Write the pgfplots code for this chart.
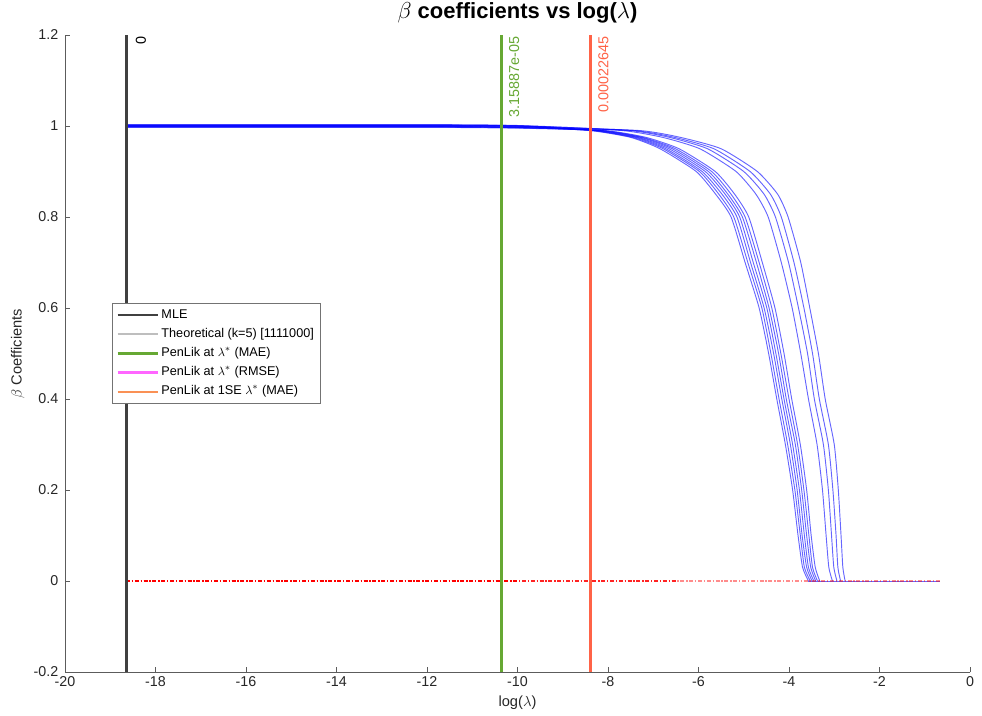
\documentclass[border=0pt]{standalone}
\usepackage{pgfplots}
\pgfplotsset{compat=1.18}
\usepackage{fontspec}
\setmainfont{Liberation Sans}
\definecolor{mleg}{RGB}{64,64,64}
\definecolor{theo}{RGB}{190,190,190}
\definecolor{maeg}{RGB}{102,168,51}
\definecolor{rmsem}{RGB}{255,102,255}
\definecolor{sel}{RGB}{250,145,85}
\definecolor{sev}{RGB}{255,99,71}
\definecolor{axc}{RGB}{38,38,38}
\begin{document}
\begin{tikzpicture}
\useasboundingbox (-48.75pt,-32.25pt) rectangle (687.75pt,504pt);
\begin{axis}[
  scale only axis, width=678.75pt, height=477.75pt,
  xmin=-20, xmax=0, ymin=-0.2, ymax=1.2,
  axis x line*=bottom, axis y line*=left,
  axis line style={-, draw=axc!75, line width=0.6pt},
  xtick align=inside, ytick align=inside, major tick length=4pt,
  tick style={axc!75, line width=0.6pt},
  xtick={-20,-18,-16,-14,-12,-10,-8,-6,-4,-2,0},
  xticklabels={-20,-18,-16,-14,-12,-10,-8,-6,-4,-2,0},
  ytick={-0.2,0,0.2,0.4,0.6,0.8,1,1.2},
  yticklabels={-0.2,0,0.2,0.4,0.6,0.8,1,1.2},
  ticklabel style={font=\fontsize{10.7}{12}\selectfont, text=axc},
  yticklabel style={xshift=-1.5pt},
  title={$\beta$ coefficients vs log($\lambda$)},
  title style={font=\bfseries\fontsize{16.5}{18}\selectfont, text=black, yshift=-1pt},
  xlabel={log($\lambda$)}, ylabel={$\beta$ Coefficients},
  label style={font=\fontsize{11}{13}\selectfont, text=axc},
  legend cell align=left,
  legend image code/.code={\draw[#1, line width=1.8pt] (0pt,0pt) -- (30pt,0pt);},
  legend style={at={(0.052,0.579)}, anchor=north west, draw=black!55, line width=0.5pt,
    font=\fontsize{9.5}{11}\selectfont, row sep=1.2pt,
    nodes={inner sep=2pt, text height=7pt, text depth=2.2pt}},
]
\addlegendimage{mleg}
\addlegendentry{MLE}
\addlegendimage{theo}
\addlegendentry{Theoretical (k=5) [1111000]}
\addlegendimage{maeg}
\addlegendentry{PenLik at $\lambda^{*}$ (MAE)}
\addlegendimage{rmsem}
\addlegendentry{PenLik at $\lambda^{*}$ (RMSE)}
\addlegendimage{sel}
\addlegendentry{PenLik at 1SE $\lambda^{*}$ (MAE)}

\pgfplotsset{every axis plot/.append style={forget plot}}
\tikzset{bc/.style={blue, opacity=0.6, line width=0.7pt, smooth, tension=0.35}}
% coefficient paths (truly nonzero coefficients)
\addplot[bc] coordinates {(-18.65,1.002) (-12,1.002) (-10,1.000) (-8.4,0.99) (-7.50,0.975) (-6.85,0.95) (-6.05,0.90) (-5.62,0.85) (-5.28,0.80) (-4.97,0.70) (-4.66,0.60) (-4.45,0.50) (-4.27,0.40) (-4.08,0.30) (-3.92,0.20) (-3.80,0.10) (-3.70,0.03) (-3.57,0)};
\addplot[bc] coordinates {(-18.65,0.999) (-12,0.999) (-9.98,0.997) (-8.35,0.99) (-7.45,0.975) (-6.78,0.95) (-5.98,0.90) (-5.55,0.85) (-5.22,0.80) (-4.91,0.70) (-4.60,0.60) (-4.40,0.50) (-4.22,0.40) (-4.03,0.30) (-3.87,0.20) (-3.75,0.10) (-3.66,0.03) (-3.53,0)};
\addplot[bc] coordinates {(-18.65,1.003) (-12,1.003) (-9.95,1.001) (-8.29,0.99) (-7.39,0.975) (-6.72,0.95) (-5.92,0.90) (-5.48,0.85) (-5.15,0.80) (-4.85,0.70) (-4.55,0.60) (-4.34,0.50) (-4.16,0.40) (-3.97,0.30) (-3.82,0.20) (-3.71,0.10) (-3.61,0.03) (-3.49,0)};
\addplot[bc] coordinates {(-18.65,0.998) (-12,0.998) (-9.93,0.996) (-8.24,0.99) (-7.34,0.975) (-6.65,0.95) (-5.85,0.90) (-5.41,0.85) (-5.09,0.80) (-4.79,0.70) (-4.49,0.60) (-4.29,0.50) (-4.11,0.40) (-3.92,0.30) (-3.77,0.20) (-3.66,0.10) (-3.57,0.03) (-3.45,0)};
\addplot[bc] coordinates {(-18.65,1.001) (-12,1.001) (-9.90,0.999) (-8.18,0.99) (-7.28,0.975) (-6.58,0.95) (-5.78,0.90) (-5.35,0.85) (-5.03,0.80) (-4.72,0.70) (-4.44,0.60) (-4.23,0.50) (-4.06,0.40) (-3.86,0.30) (-3.72,0.20) (-3.61,0.10) (-3.52,0.03) (-3.41,0)};
\addplot[bc] coordinates {(-18.65,0.997) (-12,0.997) (-9.88,0.995) (-8.13,0.99) (-7.23,0.975) (-6.51,0.95) (-5.71,0.90) (-5.28,0.85) (-4.97,0.80) (-4.66,0.70) (-4.38,0.60) (-4.18,0.50) (-4.00,0.40) (-3.81,0.30) (-3.67,0.20) (-3.56,0.10) (-3.48,0.03) (-3.37,0)};
\addplot[bc] coordinates {(-18.65,1.000) (-12,1.000) (-9.85,0.998) (-8.06,0.99) (-7.16,0.975) (-6.43,0.95) (-5.63,0.90) (-5.20,0.85) (-4.89,0.80) (-4.59,0.70) (-4.31,0.60) (-4.11,0.50) (-3.94,0.40) (-3.75,0.30) (-3.61,0.20) (-3.51,0.10) (-3.42,0.03) (-3.32,0)};
\addplot[bc] coordinates {(-18.65,1.002) (-12,1.002) (-9.68,1.000) (-7.69,0.99) (-6.79,0.975) (-5.97,0.95) (-5.17,0.90) (-4.73,0.85) (-4.46,0.80) (-4.17,0.70) (-3.93,0.60) (-3.74,0.50) (-3.57,0.40) (-3.38,0.30) (-3.26,0.20) (-3.18,0.10) (-3.12,0.03) (-3.04,0)};
\addplot[bc] coordinates {(-18.65,0.998) (-12,0.998) (-9.61,0.996) (-7.54,0.99) (-6.64,0.975) (-5.80,0.95) (-5.00,0.90) (-4.55,0.85) (-4.30,0.80) (-4.01,0.70) (-3.79,0.60) (-3.59,0.50) (-3.44,0.40) (-3.24,0.30) (-3.13,0.20) (-3.06,0.10) (-3.01,0.03) (-2.94,0)};
\addplot[bc] coordinates {(-18.65,1.001) (-12,1.001) (-9.56,0.999) (-7.43,0.99) (-6.53,0.975) (-5.66,0.95) (-4.86,0.90) (-4.41,0.85) (-4.17,0.80) (-3.89,0.70) (-3.67,0.60) (-3.48,0.50) (-3.33,0.40) (-3.13,0.30) (-3.03,0.20) (-2.96,0.10) (-2.92,0.03) (-2.86,0)};
\addplot[bc] coordinates {(-18.65,0.999) (-12,0.999) (-9.50,0.997) (-7.30,0.99) (-6.40,0.975) (-5.50,0.95) (-4.70,0.90) (-4.25,0.85) (-4.02,0.80) (-3.74,0.70) (-3.54,0.60) (-3.35,0.50) (-3.20,0.40) (-3.00,0.30) (-2.91,0.20) (-2.85,0.10) (-2.81,0.03) (-2.76,0)};
% all paths stay at zero for large lambda
\addplot[blue, opacity=0.6, line width=0.7pt] coordinates {(-3.57,0) (-0.66,0)};
% truly zero coefficients
\tikzset{rd/.style={red, dash pattern=on 3pt off 1.3pt on 1pt off 1.3pt}}
\addplot[rd, opacity=0.45, line width=0.8pt] coordinates {(-18.65,0) (-0.66,0)};
\addplot[rd, opacity=0.75, line width=1.3pt] coordinates {(-18.65,0) (-6.5,0)};
\addplot[rd, line width=2pt] coordinates {(-18.65,0) (-10.0,0)};
% vertical reference lines
\addplot[mleg, line width=2.2pt] coordinates {(-18.65,-0.2) (-18.65,1.2)};
\addplot[rmsem, line width=2.2pt] coordinates {(-10.3627,-0.2) (-10.3627,1.2)};
\addplot[maeg, line width=2.2pt] coordinates {(-10.3627,-0.2) (-10.3627,1.2)};
\addplot[sev, line width=2.2pt] coordinates {(-8.3929,-0.2) (-8.3929,1.2)};
\node[rotate=90, anchor=north east, inner sep=1pt, text=black, font=\fontsize{10.8}{12}\selectfont] at (axis cs:-18.47,1.2) {0};
\node[rotate=90, anchor=north east, inner sep=1pt, text=maeg, font=\fontsize{10.8}{12}\selectfont] at (axis cs:-10.22,1.2) {3.15887e-05};
\node[rotate=90, anchor=north east, inner sep=1pt, text=sev, font=\fontsize{10.8}{12}\selectfont] at (axis cs:-8.25,1.2) {0.00022645};
\end{axis}
\end{tikzpicture}
\end{document}
